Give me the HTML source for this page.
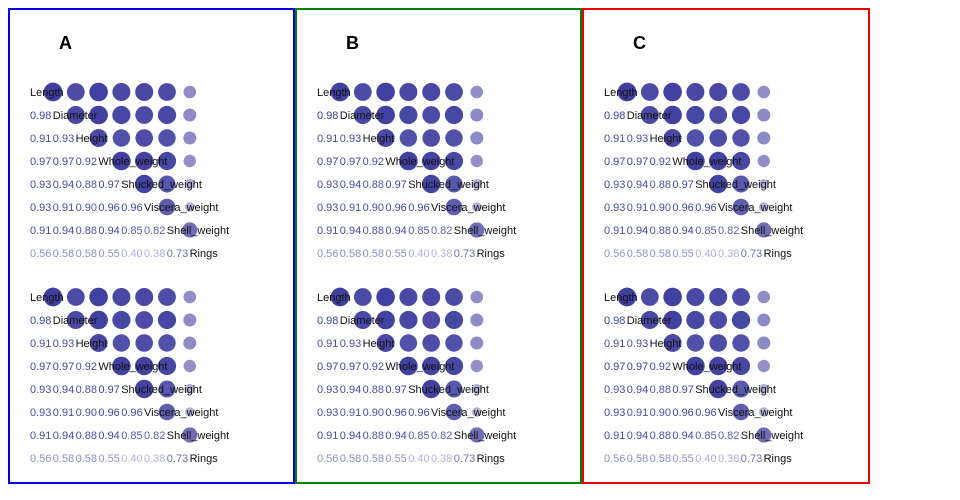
<!DOCTYPE html>
<html><head><meta charset="utf-8"><style>
html,body{margin:0;padding:0;background:#fff;width:960px;height:500px;overflow:hidden}
svg{display:block}
text{font-family:"Liberation Sans",sans-serif;font-size:11px}
.l{fill:#111}
.t{font-size:18px;font-weight:bold;fill:#000}
</style></head><body>
<svg width="960" height="500" xmlns="http://www.w3.org/2000/svg">
<rect x="9" y="9" width="285" height="474" fill="none" stroke="#0000ee" stroke-width="2"/>
<rect x="296" y="9" width="285" height="474" fill="none" stroke="#008000" stroke-width="2"/>
<rect x="583" y="9" width="286" height="474" fill="none" stroke="#ee0000" stroke-width="2"/>
<text class="t" x="59" y="49">A</text>
<text class="t" x="346" y="49">B</text>
<text class="t" x="633" y="49">C</text>
<g id="m0">
<g fill="#33339a">
<circle cx="53" cy="92" r="9.37" fill-opacity=".94"/><circle cx="75.8" cy="92" r="8.9" fill-opacity=".88"/><circle cx="98.6" cy="92" r="9.3" fill-opacity=".93"/><circle cx="121.4" cy="92" r="9.02" fill-opacity=".89"/><circle cx="144.2" cy="92" r="9.02" fill-opacity=".89"/><circle cx="167" cy="92" r="8.9" fill-opacity=".88"/><circle cx="189.8" cy="92" r="6.3" fill-opacity=".55"/>
<circle cx="75.8" cy="115" r="9.02" fill-opacity=".89"/><circle cx="98.6" cy="115" r="9.3" fill-opacity=".93"/><circle cx="121.4" cy="115" r="9.1" fill-opacity=".9"/><circle cx="144.2" cy="115" r="8.9" fill-opacity=".88"/><circle cx="167" cy="115" r="9.1" fill-opacity=".9"/><circle cx="189.8" cy="115" r="6.5" fill-opacity=".57"/>
<circle cx="98.6" cy="138" r="8.96" fill-opacity=".89"/><circle cx="121.4" cy="138" r="8.7" fill-opacity=".85"/><circle cx="144.2" cy="138" r="8.8" fill-opacity=".87"/><circle cx="167" cy="138" r="8.7" fill-opacity=".85"/><circle cx="189.8" cy="138" r="6.5" fill-opacity=".57"/>
<circle cx="121.4" cy="161" r="9.3" fill-opacity=".93"/><circle cx="144.2" cy="161" r="9.24" fill-opacity=".92"/><circle cx="167" cy="161" r="9.1" fill-opacity=".9"/><circle cx="189.8" cy="161" r="6.2" fill-opacity=".54"/>
<circle cx="144.2" cy="184" r="9.24" fill-opacity=".92"/><circle cx="167" cy="184" r="8.5" fill-opacity=".82"/><circle cx="189.8" cy="184" r="5" fill-opacity=".4"/>
<circle cx="167" cy="207" r="8.3" fill-opacity=".79"/><circle cx="189.8" cy="207" r="4.8" fill-opacity=".38"/>
<circle cx="189.8" cy="230" r="7.6" fill-opacity=".71"/>
</g>
<g fill="#33339a">
<text class="l" x="30" y="96">Length</text>
<text y="119"><tspan x="30" fill-opacity=".94">0.98</tspan><tspan class="l" x="52.8">Diameter</tspan></text>
<text y="142"><tspan x="30" fill-opacity=".88">0.91</tspan><tspan x="52.8" fill-opacity=".89">0.93</tspan><tspan class="l" x="75.6">Height</tspan></text>
<text y="165"><tspan x="30" fill-opacity=".93">0.97</tspan><tspan x="52.8" fill-opacity=".93">0.97</tspan><tspan x="75.6" fill-opacity=".89">0.92</tspan><tspan class="l" x="98.4">Whole_weight</tspan></text>
<text y="188"><tspan x="30" fill-opacity=".89">0.93</tspan><tspan x="52.8" fill-opacity=".9">0.94</tspan><tspan x="75.6" fill-opacity=".85">0.88</tspan><tspan x="98.4" fill-opacity=".93">0.97</tspan><tspan class="l" x="121.2">Shucked_weight</tspan></text>
<text y="211"><tspan x="30" fill-opacity=".89">0.93</tspan><tspan x="52.8" fill-opacity=".88">0.91</tspan><tspan x="75.6" fill-opacity=".87">0.90</tspan><tspan x="98.4" fill-opacity=".92">0.96</tspan><tspan x="121.2" fill-opacity=".92">0.96</tspan><tspan class="l" x="144">Viscera_weight</tspan></text>
<text y="234"><tspan x="30" fill-opacity=".88">0.91</tspan><tspan x="52.8" fill-opacity=".9">0.94</tspan><tspan x="75.6" fill-opacity=".85">0.88</tspan><tspan x="98.4" fill-opacity=".9">0.94</tspan><tspan x="121.2" fill-opacity=".82">0.85</tspan><tspan x="144" fill-opacity=".79">0.82</tspan><tspan class="l" x="166.8">Shell_weight</tspan></text>
<text y="257"><tspan x="30" fill-opacity=".55">0.56</tspan><tspan x="52.8" fill-opacity=".57">0.58</tspan><tspan x="75.6" fill-opacity=".57">0.58</tspan><tspan x="98.4" fill-opacity=".54">0.55</tspan><tspan x="121.2" fill-opacity=".4">0.40</tspan><tspan x="144" fill-opacity=".38">0.38</tspan><tspan x="166.8" fill-opacity=".71">0.73</tspan><tspan class="l" x="189.6">Rings</tspan></text>
</g>
</g>
<use href="#m0" x="0" y="205"/>
<use href="#m0" x="287" y="0"/>
<use href="#m0" x="287" y="205"/>
<use href="#m0" x="574" y="0"/>
<use href="#m0" x="574" y="205"/>
</svg>
</body></html>
